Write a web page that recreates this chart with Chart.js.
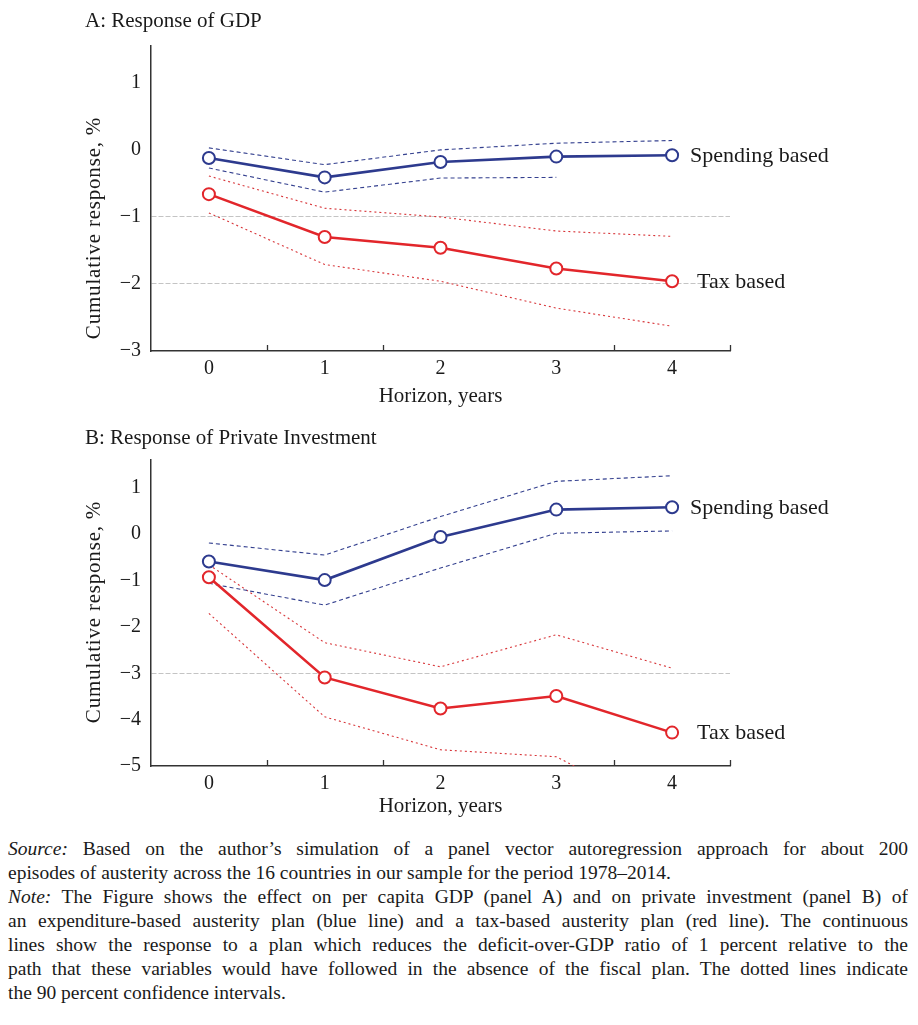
<!DOCTYPE html>
<html><head><meta charset="utf-8">
<script src="https://cdn.jsdelivr.net/npm/chart.js@4.4.0/dist/chart.umd.min.js"></script>
<style>
html,body{margin:0;padding:0;background:#fff;}
body{width:918px;height:1025px;position:relative;overflow:hidden;font-family:"Liberation Serif",serif;color:#1a1a1a;}
#cA{position:absolute;left:0;top:0;width:918px;height:420px;}
#cB{position:absolute;left:0;top:420px;width:918px;height:410px;}
.ptitle{position:absolute;left:85px;font-size:21px;line-height:24px;white-space:nowrap;}
.ytitle{position:absolute;font-size:21px;line-height:24px;white-space:nowrap;transform:translate(-50%,-50%) rotate(-90deg);letter-spacing:0.8px;}
#cap{position:absolute;left:8px;top:837px;width:900px;font-size:19.5px;line-height:24px;}
.ln{text-align:justify;text-align-last:justify;height:24px;overflow:hidden;}
.ln.last{text-align-last:left;}
</style></head><body>
<canvas id="cA" width="918" height="420"></canvas>
<canvas id="cB" width="918" height="410"></canvas>
<div class="ptitle" style="top:8px">A: Response of GDP</div>
<div class="ptitle" style="top:425px">B: Response of Private Investment</div>
<div class="ytitle" style="left:93px;top:228px">Cumulative response, %</div>
<div class="ytitle" style="left:93px;top:612px">Cumulative response, %</div>
<div id="cap">
<div class="ln"><i>Source:</i> Based on the author’s simulation of a panel vector autoregression approach for about 200</div>
<div class="ln last">episodes of austerity across the 16 countries in our sample for the period 1978–2014.</div>
<div class="ln"><i>Note:</i> The Figure shows the effect on per capita GDP (panel A) and on private investment (panel B) of</div>
<div class="ln">an expenditure-based austerity plan (blue line) and a tax-based austerity plan (red line). The continuous</div>
<div class="ln">lines show the response to a plan which reduces the deficit-over-GDP ratio of 1 percent relative to the</div>
<div class="ln">path that these variables would have followed in the absence of the fiscal plan. The dotted lines indicate</div>
<div class="ln last">the 90 percent confidence intervals.</div>
</div>
<script>
const horizons = ['0','1','2','3','4'];
const seriesNames = ['Spending based','Tax based'];
const xTitle = 'Horizon, years';

// Panel A: GDP
const gdpSpending      = [-0.12,-0.41,-0.18,-0.10,-0.08];
const gdpSpendingUpper = [0.03,-0.22,0.00,0.10,0.14];
const gdpSpendingLower = [-0.27,-0.63,-0.42,-0.41,null];
const gdpTax           = [-0.66,-1.30,-1.46,-1.77,-1.96];
const gdpTaxUpper      = [-0.39,-0.87,-1.00,-1.21,-1.29];
const gdpTaxLower      = [-0.94,-1.71,-1.96,-2.36,-2.63];
const gdpTicks = [1,0,-1,-2,-3];
const gdpGrid  = [-1,-2];

// Panel B: Private investment
const invSpending      = [-0.59,-0.99,-0.06,0.53,0.58];
const invSpendingUpper = [-0.19,-0.45,0.38,1.14,1.26];
const invSpendingLower = [-1.06,-1.53,-0.73,0.02,0.07];
const invTax           = [-0.93,-3.09,-3.76,-3.49,-4.28];
const invTaxUpper      = [-0.66,-2.34,-2.86,-2.17,-2.89];
const invTaxLower      = [-1.71,-3.94,-4.65,-4.80,-6.10];
const invTicks = [1,0,-1,-2,-3,-4,-5];
const invGrid  = [-3];

const BLUE = '#2d3a8e', RED = '#e2262b';
const BLUE_CI = '#34408f', RED_CI = '#d8363a';
const FONT = '"Liberation Serif", serif';
const TXT = '#1a1a1a';

function mainDs(data, color){
  return {data, borderColor:color, borderWidth:2.6, pointRadius:6, pointHoverRadius:6,
    pointBorderWidth:2, pointBackgroundColor:'#fff', pointBorderColor:color, tension:0, fill:false};
}
function ciDs(data, color, dash){
  return {data, borderColor:color, borderWidth:1.1, borderDash:dash, pointRadius:0, pointHoverRadius:0,
    tension:0, fill:false, spanGaps:false};
}
const fmt = v => v < 0 ? '\u2212' + Math.abs(v) : String(v);

const decoPlugin = {
  id:'deco',
  afterDatasetsDraw(chart){
    const ctx = chart.ctx, xs = chart.scales.x, area = chart.chartArea;
    ctx.save();
    ctx.strokeStyle = '#333'; ctx.lineWidth = 1.3;
    const n = horizons.length;
    for (let i = 0; i < n; i++){
      if (i === 2) continue;
      const x = i < n-1 ? (xs.getPixelForValue(i) + xs.getPixelForValue(i+1))/2 : area.right;
      ctx.beginPath(); ctx.moveTo(Math.round(x)+0.5, area.bottom); ctx.lineTo(Math.round(x)+0.5, area.bottom-6); ctx.stroke();
    }
    ctx.fillStyle = TXT; ctx.font = '22px ' + FONT; ctx.textBaseline = 'middle'; ctx.textAlign = 'left';
    const offs = [18, 25];
    [0,1].forEach(k => {
      const meta = chart.getDatasetMeta(k);
      const el = meta.data[meta.data.length-1];
      ctx.fillText(seriesNames[k], el.x + offs[k], el.y + 1);
    });
    ctx.restore();
  }
};

function makeChart(id, sets, ticks, grid, yMin, yMax, padTop, xHeight){
  const canvas = document.getElementById(id);
  return new Chart(canvas, {
    type:'line',
    data:{labels:horizons, datasets:[
      mainDs(sets[0], BLUE), mainDs(sets[3], RED),
      ciDs(sets[1], BLUE_CI, [4,3]), ciDs(sets[2], BLUE_CI, [4,3]),
      ciDs(sets[4], RED_CI, [2,3]), ciDs(sets[5], RED_CI, [2,3])
    ]},
    options:{
      responsive:false, animation:false, devicePixelRatio:1,
      layout:{padding:{top:padTop, right:188, left:0, bottom:0}},
      plugins:{legend:{display:false}, tooltip:{enabled:false}},
      scales:{
        x:{type:'category', offset:true,
          grid:{display:false, drawTicks:false},
          border:{display:true, color:'#333', width:1.5},
          ticks:{color:TXT, font:{family:FONT, size:20}, padding:6, maxRotation:0},
          title:{display:true, text:xTitle, color:TXT, font:{family:FONT, size:21}, padding:{top:0,bottom:11}},
          afterFit(s){ s.height = xHeight; }
        },
        y:{type:'linear', min:yMin, max:yMax,
          afterBuildTicks(s){ s.ticks = ticks.map(v => ({value:v})); },
          grid:{drawTicks:false, lineWidth:1, color: c => (c.tick && grid.includes(c.tick.value)) ? '#c4c4c4' : 'rgba(0,0,0,0)'},
          border:{display:true, color:'#333', width:1.5, dash:[5,2]},
          ticks:{color:TXT, font:{family:FONT, size:20}, padding:10, callback:v => fmt(v)},
          afterFit(s){ s.width = 151; }
        }
      }
    },
    plugins:[decoPlugin]
  });
}

makeChart('cA', [gdpSpending, gdpSpendingUpper, gdpSpendingLower, gdpTax, gdpTaxUpper, gdpTaxLower],
  gdpTicks, gdpGrid, -3, 1.55, 46, 69);
makeChart('cB', [invSpending, invSpendingUpper, invSpendingLower, invTax, invTaxUpper, invTaxLower],
  invTicks, invGrid, -5, 1.6, 40, 64);
</script>
</body></html>
